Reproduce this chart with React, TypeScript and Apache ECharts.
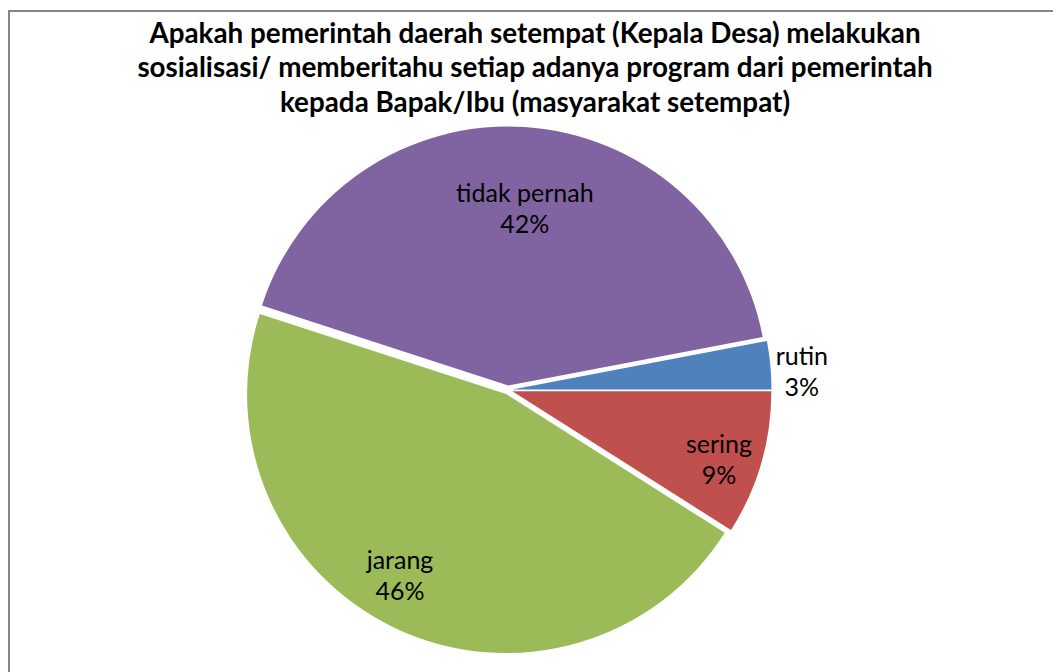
import React, { useEffect, useRef } from "react";
import * as echarts from "echarts";

const categories = ["rutin", "sering", "jarang", "tidak pernah"];
const values = [3, 9, 46, 42];
const colors = ["#4F81BD", "#C0504D", "#9BBB59", "#8064A2"];
const titleText =
  "Apakah pemerintah daerah setempat (Kepala Desa) melakukan\nsosialisasi/ memberitahu setiap adanya program dari pemerintah\nkepada Bapak/Ibu (masyarakat setempat)";

// label placement: [radius factor, angle tweak in degrees]
const labelPlace = [
  [1.137, -1.7],
  [0.856, -1.7],
  [0.824, -5.2],
  [0.706, -1.7],
];

const CX = 508;
const CY = 390;
const R = 259;
const FONT = "Lato, 'Open Sans', sans-serif";

export default function App() {
  const ref = useRef<HTMLDivElement>(null);
  useEffect(() => {
    if (!ref.current) return;
    const chart = echarts.init(ref.current, undefined, { renderer: "svg" });
    const total = values.reduce((a, b) => a + b, 0);
    const startAngle = (values[0] / total) * 360;
    const mids: number[] = [];
    let cum = 0;
    values.forEach((v) => {
      mids.push(startAngle - ((cum + v / 2) / total) * 360);
      cum += v;
    });
    const labels = categories.map((name, i) => {
      const a = ((mids[i] + labelPlace[i][1]) * Math.PI) / 180;
      const rr = R * labelPlace[i][0];
      const pct = Math.round((values[i] / total) * 100);
      return {
        type: "text",
        x: CX + rr * Math.cos(a),
        y: CY - rr * Math.sin(a),
        silent: true,
        z: 10,
        style: {
          text: `${name}\n${pct}%`,
          fontFamily: FONT,
          fontSize: 25,
          lineHeight: 31,
          fill: "#000",
          textAlign: "center",
          textVerticalAlign: "middle",
        },
      };
    });
    chart.setOption({
      animation: false,
      backgroundColor: "#ffffff",
      title: {
        text: titleText,
        left: 535,
        top: 15,
        padding: 0,
        textAlign: "center",
        textStyle: {
          fontFamily: FONT,
          fontWeight: "bold",
          fontSize: 27.8,
          lineHeight: 34.5,
          color: "#000",
        },
      },
      graphic: [
        {
          type: "rect",
          shape: { x: 9, y: 11, width: 1100, height: 700 },
          style: { fill: "none", stroke: "#868686", lineWidth: 2 },
          silent: true,
          z: -1,
        },
        ...labels,
      ],
      series: [
        {
          type: "pie",
          center: [CX, CY],
          radius: R,
          startAngle,
          clockwise: true,
          selectedMode: "multiple",
          selectedOffset: 4.5,
          avoidLabelOverlap: false,
          data: categories.map((name, i) => ({
            name,
            value: values[i],
            selected: true,
            itemStyle: { color: colors[i] },
          })),
          label: { show: false },
          labelLine: { show: false },
          emphasis: { disabled: true },
        },
      ],
    });
    return () => chart.dispose();
  }, []);
  return (
    <div
      ref={ref}
      style={{ position: "fixed", left: 0, top: 0, width: 1053, height: 672 }}
    />
  );
}
